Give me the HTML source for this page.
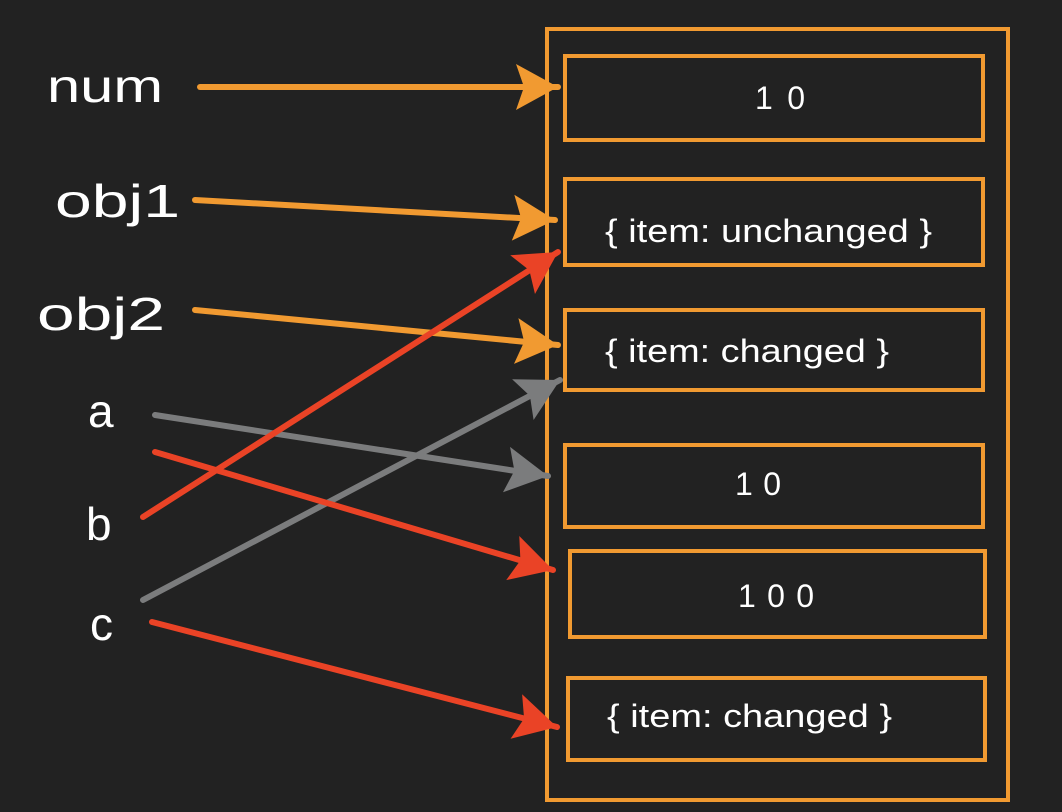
<!DOCTYPE html>
<html><head><meta charset="utf-8"><style>
html,body{margin:0;padding:0;background:#222;}
svg{display:block}
text{font-family:"Liberation Sans",sans-serif;fill:#fff}
</style></head><body>
<svg width="1062" height="812" viewBox="0 0 1062 812" xmlns="http://www.w3.org/2000/svg">
<defs>
<marker id="ho" markerUnits="userSpaceOnUse" markerWidth="46" markerHeight="50" refX="44" refY="25" orient="auto"><path d="M2,2 L44,25 L2,48 L10,25 Z" fill="#f19a31"/></marker>
<marker id="hr" markerUnits="userSpaceOnUse" markerWidth="46" markerHeight="50" refX="44" refY="25" orient="auto"><path d="M2,2 L44,25 L2,48 L10,25 Z" fill="#ea4326"/></marker>
<marker id="hg" markerUnits="userSpaceOnUse" markerWidth="46" markerHeight="50" refX="44" refY="25" orient="auto"><path d="M2,2 L44,25 L2,48 L10,25 Z" fill="#7b7c7d"/></marker>
</defs>
<rect width="1062" height="812" fill="#222"/>
<g fill="none" stroke="#f19a31" stroke-width="4">
<rect x="547" y="29" width="461" height="771"/>
<rect x="565" y="56" width="418" height="84"/>
<rect x="565" y="179" width="418" height="86"/>
<rect x="565" y="310" width="418" height="80"/>
<rect x="565" y="445" width="418" height="82"/>
<rect x="570" y="551" width="415" height="86"/>
<rect x="568" y="678" width="417" height="82"/>
</g>
<g font-size="32">
<text x="755" y="109" textLength="50" lengthAdjust="spacing">10</text>
<text x="605" y="242" textLength="327" lengthAdjust="spacingAndGlyphs">{ item: unchanged }</text>
<text x="605" y="362" textLength="284" lengthAdjust="spacingAndGlyphs">{ item: changed }</text>
<text x="735" y="495" textLength="46" lengthAdjust="spacing">10</text>
<text x="738" y="607" textLength="76" lengthAdjust="spacing">100</text>
<text x="607" y="727" textLength="285" lengthAdjust="spacingAndGlyphs">{ item: changed }</text>
</g>
<g font-size="46">
<text x="47" y="102" textLength="116" lengthAdjust="spacingAndGlyphs">num</text>
<text x="55" y="217" textLength="125" lengthAdjust="spacingAndGlyphs">obj1</text>
<text x="37" y="330" textLength="128" lengthAdjust="spacingAndGlyphs">obj2</text>
<text x="88" y="427">a</text>
<text x="86" y="540">b</text>
<text x="90" y="640">c</text>
</g>
<g fill="none" stroke-width="6" stroke-linecap="round">
<line x1="200" y1="87" x2="558" y2="87" stroke="#f19a31" marker-end="url(#ho)"/>
<line x1="195" y1="200" x2="555" y2="220" stroke="#f19a31" marker-end="url(#ho)"/>
<line x1="195" y1="310" x2="558" y2="345" stroke="#f19a31" marker-end="url(#ho)"/>
<line x1="155" y1="415" x2="548" y2="476" stroke="#7b7c7d" marker-end="url(#hg)"/>
<line x1="143" y1="600" x2="560" y2="380" stroke="#7b7c7d" marker-end="url(#hg)"/>
<line x1="143" y1="517" x2="558" y2="252" stroke="#ea4326" marker-end="url(#hr)"/>
<line x1="155" y1="452" x2="553" y2="570" stroke="#ea4326" marker-end="url(#hr)"/>
<line x1="152" y1="622" x2="557" y2="727" stroke="#ea4326" marker-end="url(#hr)"/>
</g>
</svg>
</body></html>
